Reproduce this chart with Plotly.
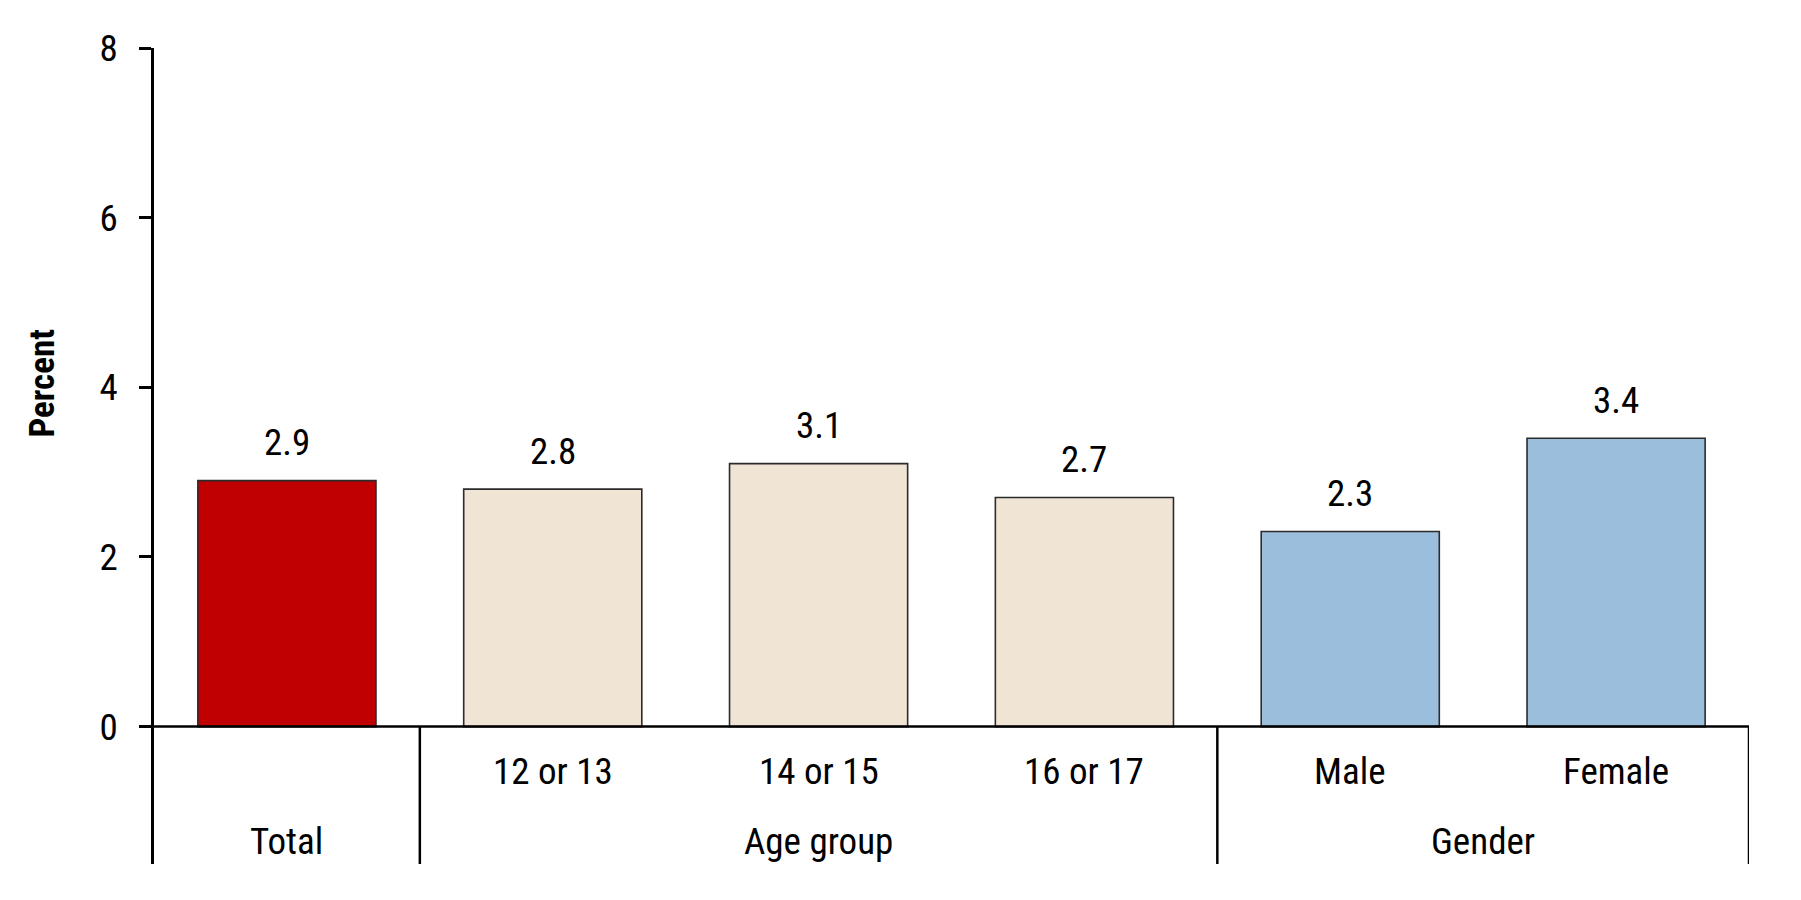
import plotly.graph_objects as go

categories = ["Total", "12 or 13", "14 or 15", "16 or 17", "Male", "Female"]
values = [2.9, 2.8, 3.1, 2.7, 2.3, 3.4]
bar_colors = ["#C00000", "#F0E5D5", "#F0E5D5", "#F0E5D5", "#9BBEDC", "#9BBEDC"]
row1_labels = ["", "12 or 13", "14 or 15", "16 or 17", "Male", "Female"]
groups = ["Total", "Age group", "Gender"]
group_centers = [0, 2, 4.5]
separators = [0.5, 3.5, 5.5]
yticks = [0, 2, 4, 6, 8]

FONT = "Liberation Sans Narrow, Roboto Condensed, Liberation Sans, Arial, sans-serif"
BOTTOM = -1.62


def f(size, weight="normal"):
    return dict(family=FONT, size=size, color="black", weight=weight)


fig = go.Figure(go.Bar(
    x=categories, y=values,
    marker=dict(color=bar_colors, line=dict(color="#2b2b2b", width=1.6)),
    width=0.67, hoverinfo="skip"))

# value labels above the bars
for c, v in zip(categories, values):
    fig.add_annotation(x=c, y=v, text=f"{v:.1f}", showarrow=False,
                       yanchor="middle", yshift=38, font=f(37))

# category labels (first row) and group labels (second row)
for c, lab in zip(categories, row1_labels):
    if lab:
        fig.add_annotation(x=c, y=-0.53, text=lab, showarrow=False, font=f(37))
for g, xc in zip(groups, group_centers):
    fig.add_annotation(x=xc, y=-1.35, text=g, showarrow=False, font=f(37))

# baseline and group dividers
fig.add_shape(type="line", x0=-0.5, x1=5.5, y0=0, y1=0,
              line=dict(color="black", width=2.5))
for s in separators:
    fig.add_shape(type="line", x0=s, x1=s, y0=0, y1=BOTTOM,
                  line=dict(color="black", width=2.5))

fig.add_annotation(xref="paper", x=-0.084, y=4.05, text="Percent",
                   textangle=-90, showarrow=False, font=f(35, "bold"))

fig.update_layout(
    width=1785, height=884,
    margin=dict(l=146, r=44, t=40, b=27.5),
    plot_bgcolor="white", paper_bgcolor="white",
    showlegend=False,
    xaxis=dict(range=[-0.5, 5.5], showticklabels=False, showgrid=False,
               zeroline=False, showline=False, ticks=""),
    yaxis=dict(range=[BOTTOM, 8], tickvals=yticks, showgrid=False,
               zeroline=False, showline=True, linecolor="black", linewidth=2.5,
               ticks="outside", ticklen=12, tickwidth=2.5, tickcolor="black",
               ticklabelstandoff=14, tickfont=f(37)),
)

fig.write_html("out.html")
